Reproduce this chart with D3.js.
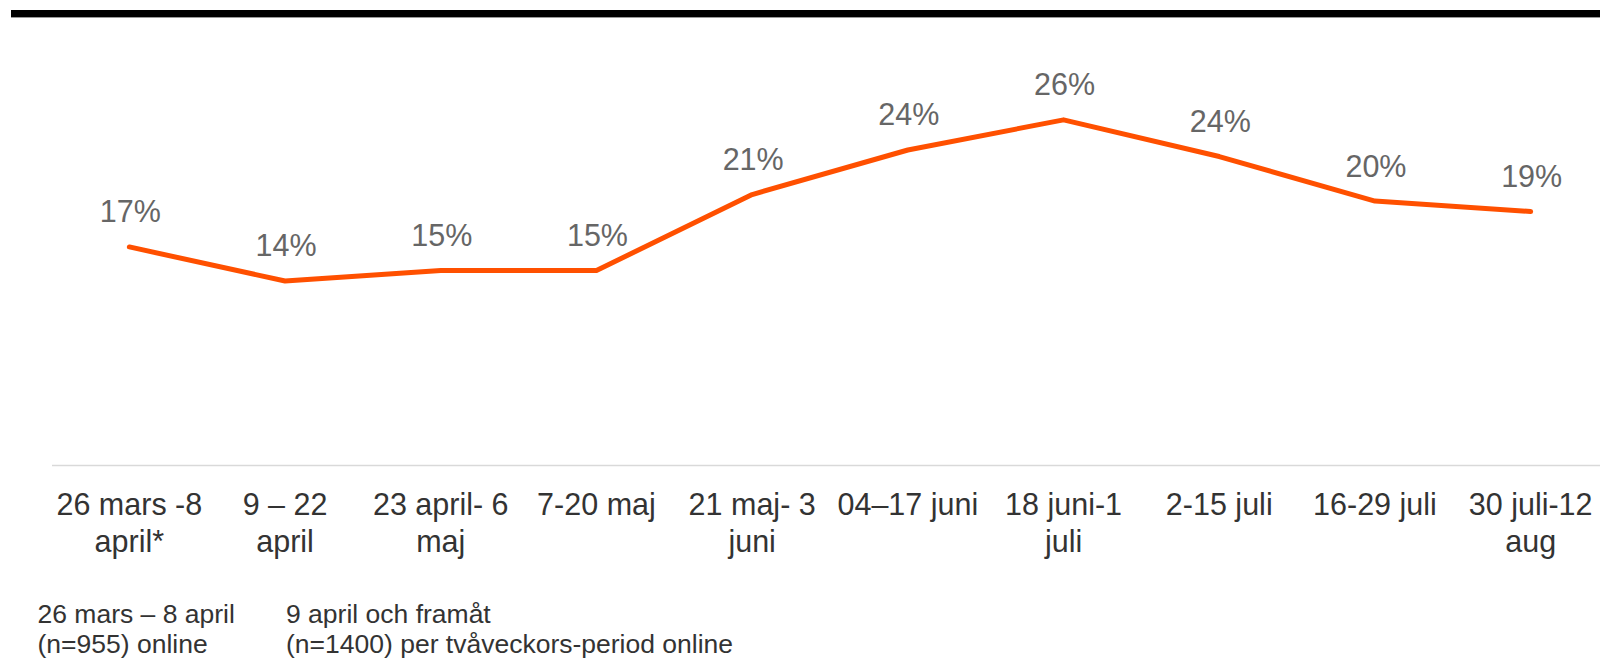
<!DOCTYPE html>
<html>
<head>
<meta charset="utf-8">
<script src="https://cdn.jsdelivr.net/npm/d3@7"></script>
<style>
  html, body { margin: 0; padding: 0; background: #ffffff; }
  svg { display: block; }
  text { font-family: "Liberation Sans", Arial, sans-serif; }
</style>
</head>
<body>
<svg id="chart" width="1600" height="658"></svg>
<script>
// ---- data ----
const categories = [
  "26 mars -8\napril*",
  "9 – 22\napril",
  "23 april- 6\nmaj",
  "7-20 maj",
  "21 maj- 3\njuni",
  "04–17 juni",
  "18 juni-1\njuli",
  "2-15 juli",
  "16-29 juli",
  "30 juli-12\naug"
];
const values = [16.7, 14.1, 14.9, 14.9, 20.7, 24.1, 26.4, 23.6, 20.2, 19.4];
const valueLabels = ["17%", "14%", "15%", "15%", "21%", "24%", "26%", "24%", "20%", "19%"];
const footnoteLeft = ["26 mars – 8 april", "(n=955) online"];
const footnoteRight = ["9 april och framåt", "(n=1400) per tvåveckors-period online"];

// ---- layout ----
const svg = d3.select("#chart");
const baseY = 465;

const x = d3.scaleBand().domain(categories).range([51.5, 1608.5]).padding(0);
const y = d3.scaleLinear().domain([0, 30]).range([baseY + 0.7, baseY + 0.7 - 30 * 13.1]);
const cx = d => x(d) + x.bandwidth() / 2;

// top black bar
svg.append("rect")
  .attr("x", 11).attr("y", 10)
  .attr("width", 1600 - 11).attr("height", 7.4)
  .attr("fill", "#000000");

// x axis
const axis = svg.append("g")
  .attr("transform", `translate(0,${baseY})`)
  .call(d3.axisBottom(x).tickSize(0).tickSizeOuter(0));

axis.select(".domain")
  .attr("stroke", "#d9d9d9")
  .attr("stroke-width", 1.6);

axis.selectAll(".tick text")
  .attr("fill", "#333333")
  .attr("font-size", "30.5px")
  .attr("dy", null)
  .attr("y", null)
  .each(function(d) {
    const t = d3.select(this);
    t.text(null);
    d.split("\n").forEach((line, i) => {
      t.append("tspan").attr("x", 0).attr("y", 50 + i * 37).text(line);
    });
  });

// line
const line = d3.line()
  .x((d, i) => cx(categories[i]))
  .y(d => y(d));

svg.append("path")
  .datum(values)
  .attr("d", line)
  .attr("fill", "none")
  .attr("stroke", "#ff5000")
  .attr("stroke-width", 5)
  .attr("stroke-linecap", "round")
  .attr("stroke-linejoin", "round");

// data labels
svg.append("g")
  .selectAll("text")
  .data(values)
  .join("text")
  .attr("x", (d, i) => cx(categories[i]) + 1)
  .attr("y", d => y(d) - 24.5)
  .attr("text-anchor", "middle")
  .attr("font-size", "30.5px")
  .attr("fill", "#666666")
  .text((d, i) => valueLabels[i]);

// footnotes
const fn = svg.append("g").attr("fill", "#333333").attr("font-size", "26.5px");
footnoteLeft.forEach((t, i) => {
  fn.append("text").attr("x", 37.5).attr("y", 623 + i * 30).text(t);
});
footnoteRight.forEach((t, i) => {
  fn.append("text").attr("x", 286).attr("y", 623 + i * 30).text(t);
});
</script>
</body>
</html>
